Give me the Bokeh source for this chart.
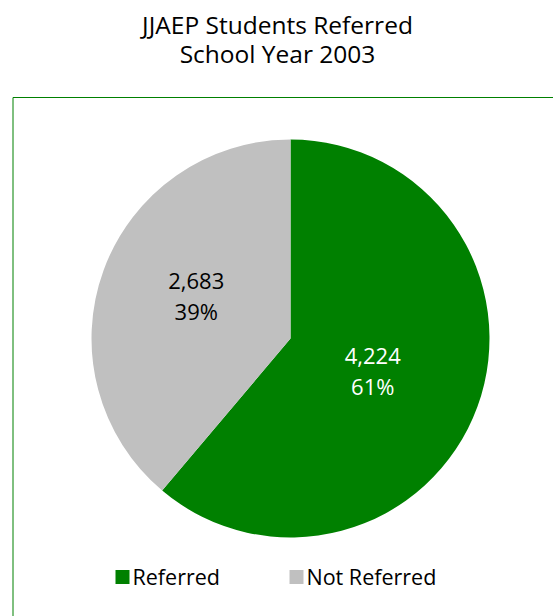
import math
from bokeh.plotting import figure
from bokeh.models import Range1d, ColumnDataSource
from bokeh.core.properties import value
from bokeh.embed import file_html
from bokeh.resources import INLINE

categories = ["Referred", "Not Referred"]
counts = [4224, 2683]
colors = ["#008000", "#C0C0C0"]
label_colors = ["white", "black"]
title_lines = ["JJAEP Students Referred", "School Year 2003"]

W, H = 553, 616
FONT = "Open Sans"

p = figure(width=W, height=H, output_backend="svg", toolbar_location=None,
           x_range=Range1d(0, W), y_range=Range1d(0, H), min_border=0)
p.axis.visible = False
p.grid.visible = False
p.outline_line_color = None
p.background_fill_color = "white"
p.border_fill_color = "white"

def Y(y):
    return H - y

# frame
p.quad(left=12.5, right=W + 20, top=Y(97), bottom=-20, fill_color=None,
       line_color="#008000", line_width=1)

# pie
cx, cy, r = 290, 338, 199
total = sum(counts)
fracs = [c / total for c in counts]
starts, ends, mids = [], [], []
acc = 0.0
for f in fracs:
    s = math.pi / 2 - 2 * math.pi * acc
    e = math.pi / 2 - 2 * math.pi * (acc + f)
    starts.append(s)
    ends.append(e)
    mids.append((s + e) / 2)
    acc += f

src = ColumnDataSource(dict(x=[cx] * 2, y=[Y(cy)] * 2, start=starts, end=ends,
                            color=colors))
p.wedge(x="x", y="y", radius=r, start_angle="start", end_angle="end",
        direction="clock", fill_color="color", line_color=None, source=src)

# labels
d = 95
nudge_x = [-7, -5]
nudge_y = [0, 10]
lx = [cx + d * math.cos(m) + nx for m, nx in zip(mids, nudge_x)]
ly = [Y(cy) + d * math.sin(m) + ny for m, ny in zip(mids, nudge_y)]
line1 = [f"{c:,}" for c in counts]
line2 = [f"{round(f * 100)}%" for f in fracs]
p.text(x=lx, y=[v + 15 for v in ly], text=line1, text_color=label_colors,
       text_font=value(FONT), text_font_size="22px", text_align="center",
       text_baseline="middle")
p.text(x=lx, y=[v - 15 for v in ly], text=line2, text_color=label_colors,
       text_font=value(FONT), text_font_size="22px", text_align="center",
       text_baseline="middle")

# title
p.text(x=[277, 277], y=[Y(24), Y(53)], text=title_lines, text_color="black",
       text_font=value(FONT), text_font_size="24.5px", text_align="center",
       text_baseline="middle")

# legend
leg_x = [122, 296]
p.rect(x=leg_x, y=[Y(576.5)] * 2, width=14, height=14, fill_color=colors,
       line_color=None)
p.text(x=[v + 10 for v in leg_x], y=[Y(575.5)] * 2, text=categories,
       text_color="black", text_font=value(FONT), text_font_size="21.5px",
       text_align="left", text_baseline="middle")

open("out.html", "w").write(file_html(p, INLINE))
